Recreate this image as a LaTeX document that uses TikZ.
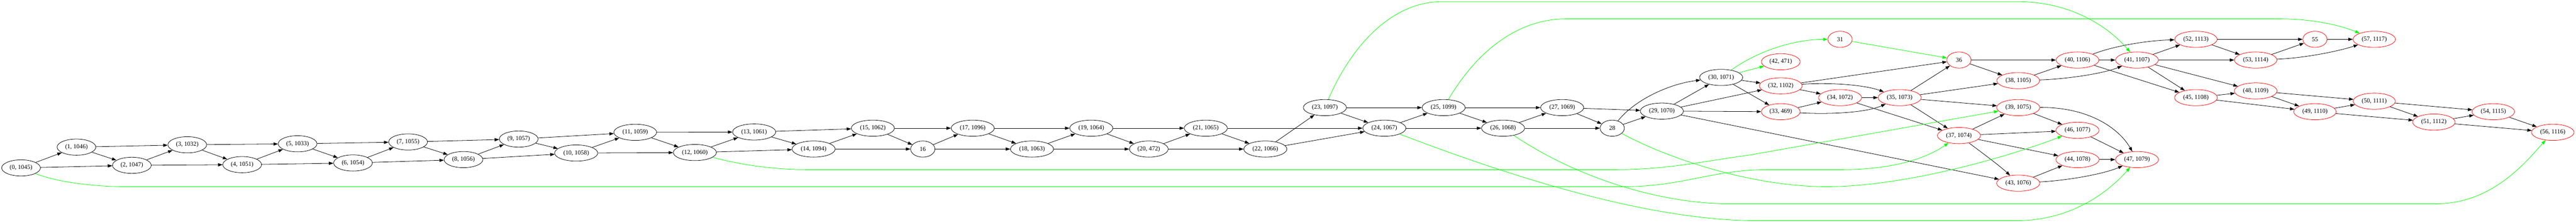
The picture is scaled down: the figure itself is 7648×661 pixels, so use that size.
\documentclass[tikz,border=0pt]{standalone}
\usepackage{fontspec}
\setmainfont{Liberation Serif}
\usetikzlibrary{arrows.meta,shapes.geometric}
\definecolor{gvgreen}{RGB}{0,255,0}
\definecolor{gvred}{RGB}{255,0,0}
\begin{document}
\begin{tikzpicture}[x=0.75pt,y=-0.75pt,
  gnode/.style={ellipse,draw=black,line width=0.9pt,minimum height=36pt,minimum width=54pt,inner xsep=5.4pt,inner ysep=1pt,font=\fontsize{13.7}{16}\selectfont},
  rnode/.style={gnode,draw=gvred},
  blk/.style={line width=0.9pt,draw=black,-{Triangle[length=10pt,width=7pt]}},
  grn/.style={line width=0.9pt,draw=gvgreen,-{Triangle[length=10pt,width=7pt]}}]
\useasboundingbox (0,0) rectangle (7648,661);
% black nodes
\node[gnode] (n0) at (62.5,498.7) {(0, 1045)};
\node[gnode] (n1) at (227,437) {(1, 1046)};
\node[gnode] (n2) at (391.5,491) {(2, 1047)};
\node[gnode] (n3) at (556,430) {(3, 1032)};
\node[gnode] (n4) at (719,489) {(4, 1051)};
\node[gnode] (n5) at (883.5,427) {(5, 1033)};
\node[gnode] (n6) at (1048,484) {(6, 1054)};
\node[gnode] (n7) at (1211.6,421.6) {(7, 1055)};
\node[gnode] (n8) at (1376,474) {(8, 1056)};
\node[gnode] (n9) at (1540,413) {(9, 1057)};
\node[gnode] (n10) at (1710.7,454.5) {(10, 1058)};
\node[gnode] (n11) at (1886,393) {(11, 1059)};
\node[gnode] (n12) at (2063,453) {(12, 1060)};
\node[gnode] (n13) at (2239,392) {(13, 1061)};
\node[gnode] (n14) at (2415.6,442.7) {(14, 1094)};
\node[gnode] (n15) at (2591.5,380.7) {(15, 1062)};
\node[gnode] (n16) at (2739.7,442.7) {16};
\node[gnode] (n17) at (2888,380.7) {(17, 1096)};
\node[gnode] (n18) at (3064,442.7) {(18, 1063)};
\node[gnode] (n19) at (3240,380.7) {(19, 1064)};
\node[gnode] (n20) at (3410.7,442.7) {(20, 472)};
\node[gnode] (n21) at (3580,380.7) {(21, 1065)};
\node[gnode] (n22) at (3756.7,442.7) {(22, 1066)};
\node[gnode] (n23) at (3933.5,319.6) {(23, 1097)};
\node[gnode] (n24) at (4110,380.7) {(24, 1067)};
\node[gnode] (n25) at (4286,319.6) {(25, 1099)};
\node[gnode] (n26) at (4462.5,380.7) {(26, 1068)};
\node[gnode] (n27) at (4638,319.6) {(27, 1069)};
\node[gnode] (n28) at (4786.6,380.7) {28};
\node[gnode] (n29) at (4934,330) {(29, 1070)};
\node[gnode] (n30) at (5110,230) {(30, 1071)};
% red nodes
\node[rnode] (n31) at (5463,116.8) {31};
\node[rnode] (n42) at (5287,183.4) {(42, 471)};
\node[rnode] (n32) at (5287,255) {(32, 1102)};
\node[rnode] (n33) at (5287,331.8) {(33, 469)};
\node[rnode] (n34) at (5463,290) {(34, 1072)};
\node[rnode] (n35) at (5640,290) {(35, 1073)};
\node[rnode] (n36) at (5816,178.3) {36};
\node[rnode] (n37) at (5816,402.6) {(37, 1074)};
\node[rnode] (n38) at (5992,239.5) {(38, 1105)};
\node[rnode] (n39) at (5992,319.6) {(39, 1075)};
\node[rnode] (n43) at (5992,544) {(43, 1076)};
\node[rnode] (n40) at (6168,178.3) {(40, 1106)};
\node[rnode] (n46) at (6168,387) {(46, 1077)};
\node[rnode] (n44) at (6168,474) {(44, 1078)};
\node[rnode] (n41) at (6344.6,178.3) {(41, 1107)};
\node[rnode] (n47) at (6344.6,474) {(47, 1079)};
\node[rnode] (n52) at (6519.6,116.8) {(52, 1113)};
\node[rnode] (n45) at (6519.6,290) {(45, 1108)};
\node[rnode] (n53) at (6697,178.3) {(53, 1114)};
\node[rnode] (n48) at (6697,270) {(48, 1109)};
\node[rnode] (n55) at (6873,116.8) {55};
\node[rnode] (n49) at (6873,331.8) {(49, 1110)};
\node[rnode] (n57) at (7049,116.8) {(57, 1117)};
\node[rnode] (n50) at (7049,300.6) {(50, 1111)};
\node[rnode] (n51) at (7226,362.6) {(51, 1112)};
\node[rnode] (n54) at (7402.5,331.8) {(54, 1115)};
\node[rnode] (n56) at (7579,393) {(56, 1116)};
% black straight edges
\foreach \a/\b in {0/1,0/2,1/2,1/3,2/3,2/4,3/4,3/5,4/5,4/6,5/6,5/7,6/7,6/8,7/8,7/9,8/9,8/10,9/10,9/11,10/11,10/12,11/12,11/13,12/13,12/14,13/14,13/15,14/15,14/16,15/16,15/17,16/17,16/18,17/18,17/19,18/19,18/20,19/20,19/21,20/21,20/22,21/22,21/24,22/23,22/24,23/24,23/25,24/25,24/26,25/26,25/27,26/27,26/28,27/28,27/29,28/29,29/30,29/32,29/33,29/43,30/32,30/33,32/34,32/36,33/34,34/35,34/37,35/36,35/37,35/38,35/39,36/38,36/40,37/39,37/46,37/44,38/40,39/46,40/41,40/45,41/52,41/53,41/48,41/45,46/47,44/47,43/44,52/55,52/53,53/55,55/57,45/48,45/49,48/49,48/50,49/50,49/51,50/51,50/54,51/54,51/56,54/56}
  {\draw[blk] (n\a) -- (n\b);}
% black curved edges
\draw[blk] (n28) .. controls (4850,300) and (4950,250) .. (n30);
\draw[blk] (n32) .. controls (5420,245) and (5530,250) .. (n35);
\draw[blk] (n33) .. controls (5430,340) and (5540,335) .. (n35);
\draw[blk] (n37) .. controls (5880,450) and (5940,495) .. (n43);
\draw[blk] (n38) .. controls (6130,235) and (6240,220) .. (n41);
\draw[blk] (n40) .. controls (6280,135) and (6380,120) .. (n52);
\draw[blk] (n39) .. controls (6200,318) and (6290,380) .. (n47);
\draw[blk] (n43) .. controls (6150,535) and (6250,515) .. (n47);
\draw[blk] (n53) .. controls (6850,172) and (6950,150) .. (n57);
% green edges
\draw[grn] (n30) -- (n42);
\draw[grn] (n31) -- (n36);
\draw[grn] (n30) .. controls (5220,150) and (5330,116.8) .. (n31);
\draw[grn] (n0) .. controls (180,545) and (300,554.4) .. (370,554.4) -- (4818,554.4) .. controls (5000,554.4) and (5080,503.8) .. (5250,503.8) -- (5468,503.8) .. controls (5620,503.8) and (5720,470) .. (n37);
\draw[grn] (n12) .. controls (2200,490) and (2300,503.8) .. (2396,503.8) -- (4795,503.8) .. controls (4950,503.8) and (5050,480) .. (5200,459.5) -- (n39);
\draw[grn] (n28) .. controls (4950,470) and (5200,554.4) .. (5423,554.4) .. controls (5650,554.4) and (5950,470) .. (n46);
\draw[grn] (n26) .. controls (4700,540) and (4950,605) .. (5130,605) -- (7234,605) .. controls (7400,605) and (7500,480) .. (n56);
\draw[grn] (n24) .. controls (4500,530) and (4900,655.6) .. (5220,655.6) -- (5984,655.6) .. controls (6150,655.6) and (6260,570) .. (n47);
\draw[grn] (n23) .. controls (4010,140) and (4130,5) .. (4280,5) -- (5990,5) .. controls (6150,5) and (6260,80) .. (n41);
\draw[grn] (n25) .. controls (4380,160) and (4500,56) .. (4650,56) -- (6768,56) .. controls (6880,56) and (6960,80) .. (n57);
\end{tikzpicture}
\end{document}
